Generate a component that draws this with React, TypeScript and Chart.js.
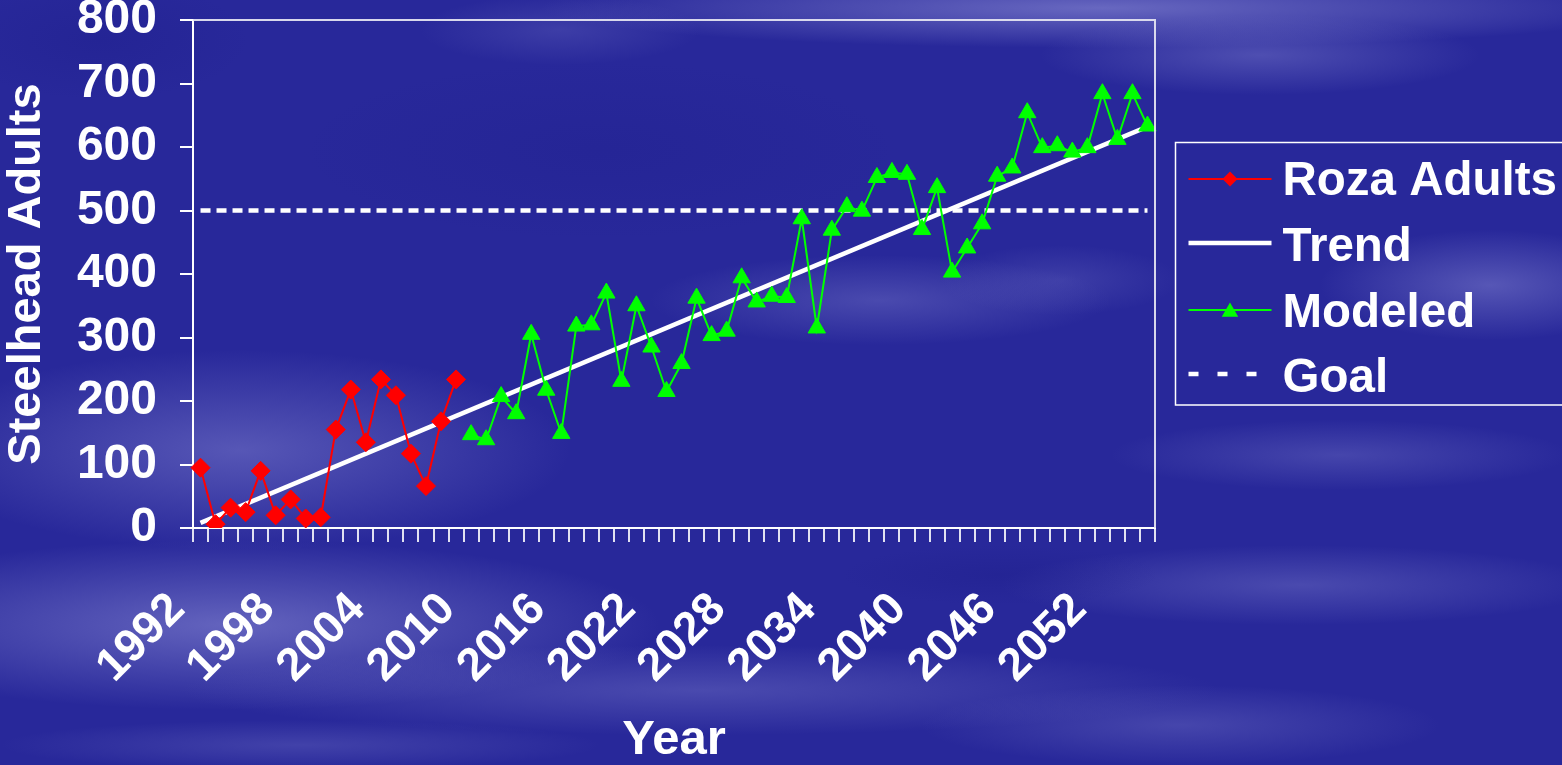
import React, { useEffect, useRef } from 'react';
import { Chart, registerables } from 'chart.js';

Chart.register(...registerables);

// ---------- data ----------
const years = [
  1992, 1993, 1994, 1995, 1996, 1997, 1998, 1999, 2000, 2001,
  2002, 2003, 2004, 2005, 2006, 2007, 2008, 2009, 2010, 2011,
  2012, 2013, 2014, 2015, 2016, 2017, 2018, 2019, 2020, 2021,
  2022, 2023, 2024, 2025, 2026, 2027, 2028, 2029, 2030, 2031,
  2032, 2033, 2034, 2035, 2036, 2037, 2038, 2039, 2040, 2041,
  2042, 2043, 2044, 2045, 2046, 2047, 2048, 2049, 2050, 2051,
  2052, 2053, 2054, 2055,
];

// observed adults 1992-2009
const rozaAdults = [95, 6, 32, 25, 90, 20, 45, 15, 17, 155, 218, 135, 234, 209, 117, 66, 168, 234];

// modeled 2010-2055
const modeled = [
  147, 139, 207, 180, 305, 217, 149, 318, 320, 370,
  231, 350, 285, 215, 259, 362, 303, 310, 394, 356,
  365, 363, 487, 315, 469, 506, 499, 552, 560, 557,
  470, 536, 403, 441, 479, 554, 567, 654, 599, 602,
  592, 599, 684, 612, 684, 633,
];

// trend line end values (1992, 2055)
const trendEnds = [8, 632];
// goal level
const goalLevel = [500, 500];

const yMin = 0;
const yMax = 800;
const yStep = 100;
const labelEvery = 6;

const legendItems = ['Roza Adults', 'Trend', 'Modeled', 'Goal'];

// ---------- style ----------
const FONT = '"Liberation Sans", Arial, Helvetica, sans-serif';
const RED = '#ff0000';
const GREEN = '#00ff00';
const WHITE = '#ffffff';

const BG_BASE = 'rgb(40,40,154)';
const BG_PATCHES = [
  { x: 1100, y: 8, rx: 560, ry: 40, a: 0.75, c: '125,125,205' },
  { x: 1260, y: 55, rx: 220, ry: 40, a: 0.45, c: '125,125,205' },
  { x: 560, y: 30, rx: 140, ry: 35, a: 0.25, c: '125,125,205' },
  { x: 240, y: 450, rx: 330, ry: 100, a: 0.55, c: '125,125,205' },
  { x: 230, y: 625, rx: 430, ry: 85, a: 0.7, c: '125,125,205' },
  { x: 700, y: 690, rx: 520, ry: 45, a: 0.4, c: '125,125,205' },
  { x: 880, y: 300, rx: 230, ry: 45, a: 0.4, c: '125,125,205' },
  { x: 1060, y: 280, rx: 120, ry: 35, a: 0.25, c: '125,125,205' },
  { x: 1490, y: 285, rx: 170, ry: 55, a: 0.55, c: '125,125,205' },
  { x: 1340, y: 455, rx: 230, ry: 35, a: 0.35, c: '125,125,205' },
  { x: 1300, y: 585, rx: 300, ry: 40, a: 0.4, c: '125,125,205' },
  { x: 1180, y: 725, rx: 260, ry: 40, a: 0.35, c: '125,125,205' },
  { x: 300, y: 745, rx: 300, ry: 25, a: 0.3, c: '125,125,205' },
  { x: 100, y: 40, rx: 150, ry: 60, a: 0.4, c: '30,30,140' },
  { x: 1000, y: 575, rx: 160, ry: 30, a: 0.4, c: '30,30,140' },
  { x: 600, y: 150, rx: 300, ry: 90, a: 0.3, c: '30,30,140' },
];

function drawBackground(ctx: CanvasRenderingContext2D, w: number, h: number) {
  ctx.save();
  ctx.fillStyle = BG_BASE;
  ctx.fillRect(0, 0, w, h);
  for (const p of BG_PATCHES) {
    ctx.save();
    ctx.translate(p.x, p.y);
    ctx.scale(p.rx, p.ry);
    const g = ctx.createRadialGradient(0, 0, 0, 0, 0, 1);
    g.addColorStop(0, `rgba(${p.c},${p.a})`);
    g.addColorStop(1, `rgba(${p.c},0)`);
    ctx.fillStyle = g;
    ctx.beginPath();
    ctx.arc(0, 0, 1, 0, Math.PI * 2);
    ctx.fill();
    ctx.restore();
  }
  ctx.restore();
}

function drawDiamond(ctx: CanvasRenderingContext2D, x: number, y: number, r: number) {
  ctx.beginPath();
  ctx.moveTo(x, y - r);
  ctx.lineTo(x + r, y);
  ctx.lineTo(x, y + r);
  ctx.lineTo(x - r, y);
  ctx.closePath();
  ctx.fill();
}

function drawTriangle(ctx: CanvasRenderingContext2D, x: number, y: number, r: number) {
  ctx.beginPath();
  ctx.moveTo(x, y - r);
  ctx.lineTo(x + r * 0.866, y + r * 0.5);
  ctx.lineTo(x - r * 0.866, y + r * 0.5);
  ctx.closePath();
  ctx.fill();
}

const decorPlugin = {
  id: 'decor',
  beforeDraw(chart: any) {
    drawBackground(chart.ctx, chart.width, chart.height);
  },
  afterDraw(chart: any) {
    const ctx: CanvasRenderingContext2D = chart.ctx;
    const area = chart.chartArea;
    const xs = chart.scales.x;

    // top & right plot border
    ctx.save();
    ctx.strokeStyle = 'rgba(225,225,240,0.95)';
    ctx.lineWidth = 2;
    ctx.beginPath();
    ctx.moveTo(area.left, area.top);
    ctx.lineTo(area.right, area.top);
    ctx.lineTo(area.right, area.bottom);
    ctx.stroke();
    ctx.restore();

    // rotated x tick labels
    ctx.save();
    ctx.fillStyle = WHITE;
    ctx.font = `bold 46px ${FONT}`;
    ctx.textAlign = 'right';
    ctx.textBaseline = 'alphabetic';
    years.forEach((yr, i) => {
      if (i % labelEvery !== 0) return;
      const px = xs.getPixelForValue(i);
      ctx.save();
      ctx.translate(px - 14, area.bottom + 83);
      ctx.rotate(-Math.PI / 4);
      ctx.fillText(String(yr), 0, 0);
      ctx.restore();
    });
    ctx.restore();

    // legend
    const lx = area.right + 20.5;
    const ly = 142.5;
    ctx.save();
    ctx.strokeStyle = WHITE;
    ctx.lineWidth = 1.5;
    ctx.strokeRect(lx, ly, chart.width - lx + 5, 262.5);

    const sx0 = lx + 13;
    const sx1 = lx + 96;
    const sxm = (sx0 + sx1) / 2;
    const rows = [179, 243, 310, 374];

    // Roza Adults
    ctx.strokeStyle = RED;
    ctx.fillStyle = RED;
    ctx.lineWidth = 2;
    ctx.beginPath();
    ctx.moveTo(sx0, rows[0]);
    ctx.lineTo(sx1, rows[0]);
    ctx.stroke();
    drawDiamond(ctx, sxm, rows[0], 7.5);

    // Trend
    ctx.strokeStyle = WHITE;
    ctx.lineWidth = 4.5;
    ctx.beginPath();
    ctx.moveTo(sx0, rows[1]);
    ctx.lineTo(sx1, rows[1]);
    ctx.stroke();

    // Modeled
    ctx.strokeStyle = GREEN;
    ctx.fillStyle = GREEN;
    ctx.lineWidth = 2;
    ctx.beginPath();
    ctx.moveTo(sx0, rows[2]);
    ctx.lineTo(sx1, rows[2]);
    ctx.stroke();
    drawTriangle(ctx, sxm, rows[2] + 2, 9.5);

    // Goal
    ctx.strokeStyle = WHITE;
    ctx.lineWidth = 4.5;
    ctx.setLineDash([10, 19]);
    ctx.beginPath();
    ctx.moveTo(sx0, rows[3]);
    ctx.lineTo(sx1, rows[3]);
    ctx.stroke();
    ctx.setLineDash([]);

    ctx.fillStyle = WHITE;
    ctx.font = `bold 47.5px ${FONT}`;
    ctx.textAlign = 'left';
    ctx.textBaseline = 'alphabetic';
    const baselines = [195, 261, 327, 392];
    legendItems.forEach((t, i) => ctx.fillText(t, lx + 107, baselines[i]));
    ctx.restore();
  },
};

function endsSeries(ends: number[]) {
  return years.map((_, i) => (i === 0 ? ends[0] : i === years.length - 1 ? ends[1] : null));
}

export default function App() {
  const canvasRef = useRef<HTMLCanvasElement | null>(null);

  useEffect(() => {
    const canvas = canvasRef.current;
    if (!canvas) return;

    const nObs = rozaAdults.length;
    const rozaData = years.map((_, i) => (i < nObs ? rozaAdults[i] : null));
    const modeledData = years.map((_, i) => (i >= nObs ? modeled[i - nObs] ?? null : null));

    const chart = new Chart(canvas, {
      type: 'line',
      data: {
        labels: years.map(String),
        datasets: [
          {
            label: 'Roza Adults',
            data: rozaData,
            borderColor: RED,
            backgroundColor: RED,
            borderWidth: 2,
            pointStyle: 'rectRot',
            pointRadius: 9.5,
            pointBorderWidth: 1,
            pointBackgroundColor: RED,
            pointBorderColor: RED,
            tension: 0,
            order: 1,
          },
          {
            label: 'Trend',
            data: endsSeries(trendEnds),
            borderColor: WHITE,
            borderWidth: 4.5,
            pointRadius: 0,
            spanGaps: true,
            tension: 0,
            order: 3,
          },
          {
            label: 'Modeled',
            data: modeledData,
            borderColor: GREEN,
            backgroundColor: GREEN,
            borderWidth: 2,
            pointStyle: 'triangle',
            pointRadius: 10,
            pointBorderWidth: 1,
            pointBackgroundColor: GREEN,
            pointBorderColor: GREEN,
            tension: 0,
            order: 2,
          },
          {
            label: 'Goal',
            data: endsSeries(goalLevel),
            borderColor: WHITE,
            borderWidth: 4.5,
            borderDash: [10, 6],
            pointRadius: 0,
            spanGaps: true,
            tension: 0,
            order: 4,
          },
        ],
      },
      options: {
        responsive: false,
        animation: false,
        events: [],
        layout: { padding: { left: 0, right: 407, top: 20, bottom: 0 } },
        plugins: {
          legend: { display: false },
          tooltip: { enabled: false },
        },
        scales: {
          x: {
            type: 'category',
            offset: true,
            grid: {
              offset: true,
              drawOnChartArea: false,
              drawTicks: true,
              tickLength: 14,
              color: 'rgba(235,235,245,0.95)',
              lineWidth: 2,
            },
            border: { display: true, color: WHITE, width: 2 },
            ticks: { display: false },
            title: {
              display: true,
              text: 'Year',
              color: WHITE,
              font: { family: FONT, size: 49, weight: 'bold', lineHeight: 1 },
              padding: { top: 0, bottom: 0 },
            },
            afterFit: (scale: any) => {
              scale.height = 237;
              scale.paddingLeft = 0;
              scale.paddingRight = 0;
            },
          },
          y: {
            min: yMin,
            max: yMax,
            grid: {
              drawOnChartArea: false,
              drawTicks: true,
              tickLength: 13,
              color: WHITE,
              lineWidth: 2,
            },
            border: { display: true, color: WHITE, width: 2 },
            ticks: {
              stepSize: yStep,
              color: WHITE,
              padding: 23,
              font: { family: FONT, size: 48, weight: 'bold' },
            },
            title: {
              display: true,
              text: 'Steelhead Adults',
              color: WHITE,
              font: { family: FONT, size: 47, weight: 'bold', lineHeight: 1 },
              padding: { top: 4, bottom: 0 },
            },
            afterFit: (scale: any) => {
              scale.width = 193;
              scale.paddingTop = 0;
              scale.paddingBottom = 0;
            },
          },
        },
      },
      plugins: [decorPlugin],
    } as any);

    return () => chart.destroy();
  }, []);

  return (
    <div style={{ position: 'absolute', left: 0, top: 0, width: 1562, height: 765, overflow: 'hidden' }}>
      <canvas ref={canvasRef} width={1562} height={765} style={{ display: 'block' }} />
    </div>
  );
}
